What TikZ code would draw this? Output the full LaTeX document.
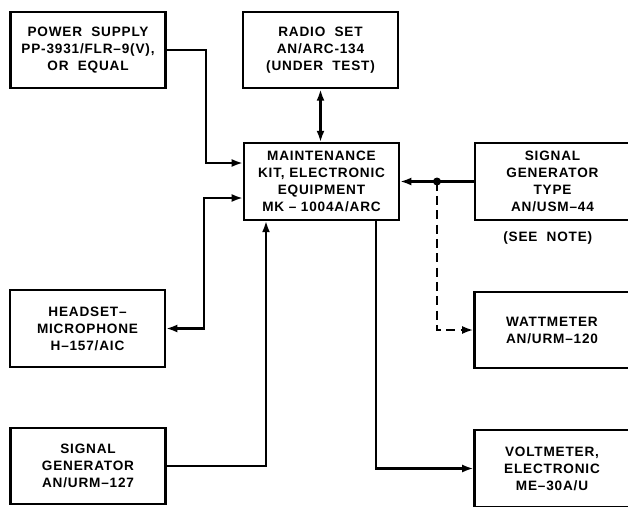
\documentclass[tikz,border=0pt]{standalone}
\usepackage{fontspec}
\setmainfont{Liberation Sans}[LetterSpace=6]
\usetikzlibrary{arrows.meta, positioning, calc}
\tikzset{
  every picture/.style={line width=1.8pt},
  box/.style={draw, align=center, inner sep=3pt, minimum width=4.65cm, minimum height=2.3cm,
    font=\fontsize{11.6}{14.5}\selectfont\bfseries},
  arrow/.style={-{Latex[length=3.4mm, width=2.4mm]}},
  twoway/.style={{Latex[length=3.4mm, width=2.4mm]}-{Latex[length=3.4mm, width=2.4mm]}},
  tapline/.style={dash pattern=on 0.27cm off 0.16cm},
  note/.style={font=\fontsize{11.6}{14}\selectfont\bfseries},
}

\begin{document}
\begin{tikzpicture}[x=0.03cm, y=-0.03cm]
  \clip (0,0) rectangle (628,506);
  \node[box] (power) at (88,50) {POWER\ \ SUPPLY\\PP-3931/FLR\textendash9(V),\\OR\ \ EQUAL};
  \node[box] (radio) at (320.5,50) {RADIO\ \ SET\\AN/ARC-134\\(UNDER\ \ TEST)};
  \node[box] (kit) at (321.5,181.5) {MAINTENANCE\\KIT, ELECTRONIC\\EQUIPMENT\\MK \textendash\ 1004A/ARC};
  \node[box] (siggen) at (552.5,181.5) {SIGNAL\\GENERATOR\\TYPE\\AN/USM\textendash44};
  \node[note, below=5pt of siggen, xshift=-4pt] (seenote) {(SEE\ \ NOTE)};
  \node[box] (headset) at (87.5,328.5) {HEADSET\textendash\\MICROPHONE\\H\textendash157/AIC};
  \node[box] (urm) at (88,466) {SIGNAL\\GENERATOR\\AN/URM\textendash127};
  \node[box] (watt) at (552,330) {WATTMETER\\AN/URM\textendash120};
  \node[box] (volt) at (552,468.5) {VOLTMETER,\\ELECTRONIC\\ME\textendash30A/U};
  \draw[arrow] (power.east) -- ++(39,0) |- ([yshift=0.555cm]kit.west);
  \draw[twoway] (headset.east) -- ++(38,0) |- ([yshift=-0.495cm]kit.west);
  \draw[twoway] (radio.south) -- (radio.south |- kit.north);
  \draw[arrow] (urm.east) -| ([xshift=-1.665cm]kit.south);
  \draw[arrow] ([xshift=1.635cm]kit.south) |- (volt.west);
  \draw[arrow] (siggen.west) -- (kit.east);
  \coordinate (tap) at (437,181.5);
  \fill (tap) circle (0.12cm);
  \draw[arrow, tapline] (tap) |- (watt.west);
\end{tikzpicture}
\end{document}
